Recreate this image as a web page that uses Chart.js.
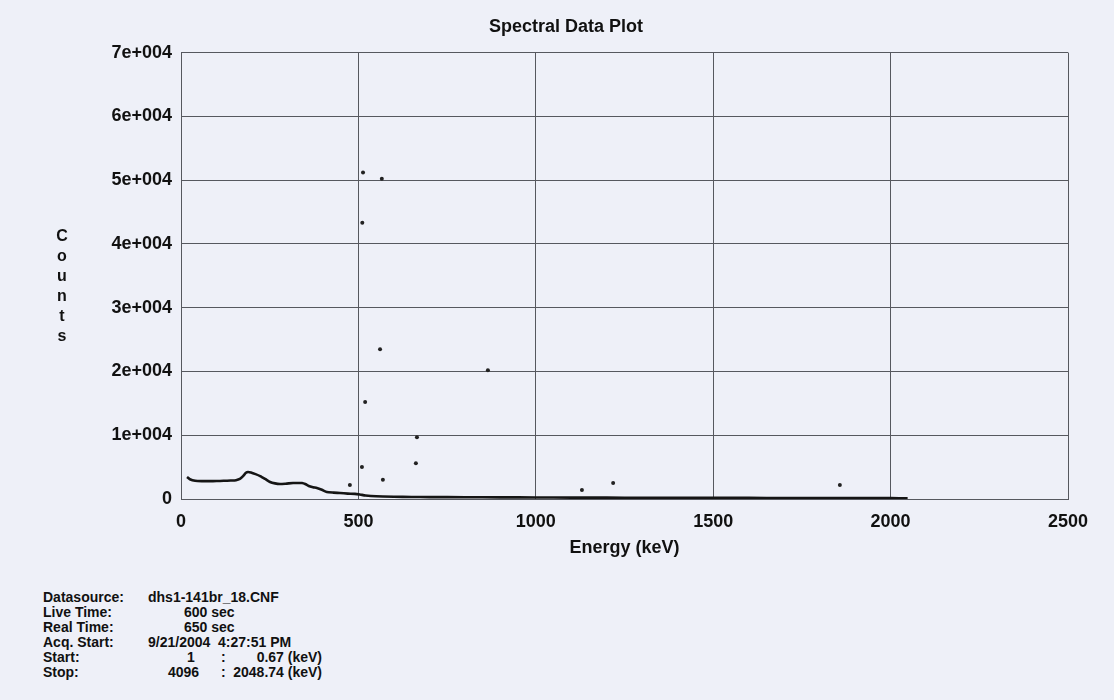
<!DOCTYPE html>
<html>
<head>
<meta charset="utf-8">
<script src="https://cdn.jsdelivr.net/npm/chart.js@4.4.1/dist/chart.umd.min.js"></script>
<style>
  html, body { margin: 0; padding: 0; }
  body { width: 1114px; height: 700px; background: #eef0f8; position: relative; overflow: hidden;
         font-family: "Liberation Sans", Arial, sans-serif; color: #111; }
  #wrap { position: absolute; left: 0; top: 0; width: 1114px; height: 570px; }
  #ylab { position: absolute; left: 53px; top: 226px; width: 18px; text-align: center;
          font-weight: bold; font-size: 16px; line-height: 20px; color: #111; }
  .row { position: absolute; font-weight: bold; font-size: 14px; line-height: 14px; white-space: pre; color: #111; }
</style>
</head>
<body>
<div id="wrap"><canvas id="c" width="1114" height="570"></canvas></div>
<div id="ylab">C<br>o<br>u<br>n<br>t<br>s</div>
<div id="footer"></div>
<script>
// ---- data ----
const spectrumEnergy = [17, 25, 40, 60, 80, 100, 120, 140, 155, 166, 175, 183, 189, 197, 210, 223, 237, 251, 265, 279, 295, 316, 330, 341, 350, 360, 372, 383, 397, 411, 430, 448, 470, 490, 504, 520, 550, 600, 650, 700, 800, 900, 1000, 1100, 1200, 1300, 1400, 1500, 1600, 1700, 1800, 1900, 2000, 2048];
const spectrumCounts = [3450, 3100, 2850, 2800, 2800, 2820, 2850, 2900, 2950, 3140, 3600, 4100, 4240, 4150, 3900, 3600, 3150, 2670, 2450, 2350, 2400, 2500, 2520, 2500, 2350, 2040, 1850, 1730, 1450, 1100, 1000, 940, 850, 800, 700, 550, 420, 350, 320, 300, 280, 260, 240, 220, 210, 200, 190, 180, 170, 160, 150, 140, 130, 120];
const peakEnergy = [513, 566, 511, 561, 865, 519, 665, 662, 510, 1218, 1857, 1130, 476, 569];
const peakCounts = [51200, 50200, 43300, 23500, 20200, 15200, 9700, 5600, 5000, 2500, 2200, 1400, 2200, 3000];
const yTicks = ['0', '1e+004', '2e+004', '3e+004', '4e+004', '5e+004', '6e+004', '7e+004'];
const xTicks = ['0', '500', '1000', '1500', '2000', '2500'];
const footerLabels = ['Datasource:', 'Live Time:', 'Real Time:', 'Acq. Start:', 'Start:', 'Stop:'];
const footerValues = ['dhs1-141br_18.CNF', '600 sec', '650 sec', '9/21/2004  4:27:51 PM', '1', '4096'];
const footerEnergy = ['', '', '', '', '0.67 (keV)', '2048.74 (keV)'];

// ---- footer ----
const footer = document.getElementById('footer');
const rowY = [590, 605, 620, 635, 650, 665];
const valX = [148, 184, 184, 148, 187, 168];
footerLabels.forEach((t, i) => {
  const a = document.createElement('div'); a.className = 'row';
  a.style.left = '43px'; a.style.top = rowY[i] + 'px'; a.textContent = t; footer.appendChild(a);
  const b = document.createElement('div'); b.className = 'row';
  b.style.left = valX[i] + 'px'; b.style.top = rowY[i] + 'px'; b.textContent = footerValues[i]; footer.appendChild(b);
  if (footerEnergy[i]) {
    const c = document.createElement('div'); c.className = 'row';
    c.style.left = '221px'; c.style.top = rowY[i] + 'px'; c.textContent = ':'; footer.appendChild(c);
    const d = document.createElement('div'); d.className = 'row';
    d.style.right = (1114 - 322) + 'px'; d.style.top = rowY[i] + 'px'; d.textContent = footerEnergy[i]; footer.appendChild(d);
  }
});

// ---- chart ----
const gridColor = '#56585f';
const tickFont = { family: 'Liberation Sans', size: 18, weight: 'bold' };
new Chart(document.getElementById('c'), {
  type: 'scatter',
  data: {
    datasets: [
      {
        label: 'Spectrum',
        data: spectrumEnergy.map((e, i) => ({x: e, y: spectrumCounts[i]})),
        showLine: true, borderColor: '#151515', borderWidth: 2.6, pointRadius: 0, tension: 0.2
      },
      {
        label: 'Peaks',
        data: peakEnergy.map((e, i) => ({x: e, y: peakCounts[i]})),
        showLine: false, backgroundColor: '#222', borderColor: '#222', pointRadius: 2, borderWidth: 0
      }
    ]
  },
  options: {
    responsive: false, animation: false,
    layout: { padding: { left: 64, right: 46, top: 0, bottom: 0 } },
    plugins: {
      legend: { display: false }, tooltip: { enabled: false },
      title: { display: true, text: 'Spectral Data Plot', color: '#111',
               font: { family: 'Liberation Sans', size: 18, weight: 'bold' },
               padding: { top: 16, bottom: 15 } }
    },
    scales: {
      x: {
        type: 'linear', min: 0, max: 2500,
        afterFit: s => { s.height = 71; },
        grid: { color: gridColor, lineWidth: 1, drawTicks: false },
        border: { color: gridColor, width: 1 },
        ticks: { stepSize: 500, padding: 12, color: '#111', maxRotation: 0, font: tickFont,
                 callback: (v) => xTicks[Math.round(v / 500)] },
        title: { display: true, text: 'Energy (keV)', color: '#111', font: tickFont,
                 padding: { top: 4, bottom: 11 } }
      },
      y: {
        type: 'linear', min: 0, max: 70000,
        afterFit: s => { s.width = 117; },
        grid: { color: gridColor, lineWidth: 1, drawTicks: false },
        border: { color: gridColor, width: 1 },
        ticks: { stepSize: 10000, padding: 9, color: '#111', font: tickFont,
                 callback: (v) => yTicks[Math.round(v / 10000)] }
      }
    }
  }
});
</script>
</body>
</html>
